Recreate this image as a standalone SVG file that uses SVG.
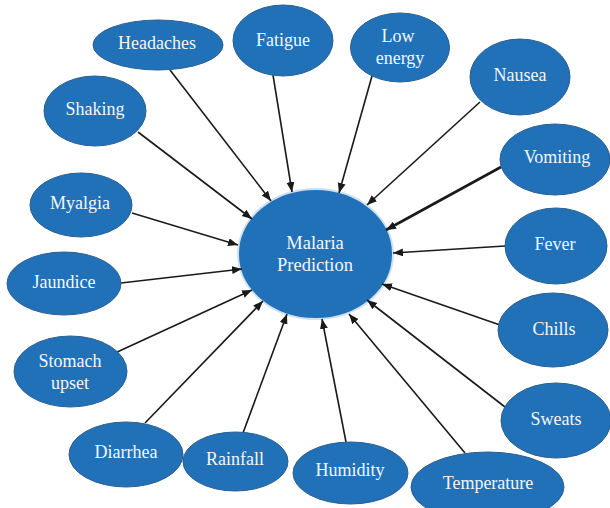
<svg xmlns="http://www.w3.org/2000/svg" width="610" height="508" viewBox="0 0 610 508">
<style>
.n{fill:#2171b9;stroke:#2b5f8f;stroke-width:1}
.c{fill:#2171b9;stroke:#cfe0f0;stroke-width:2}
.t{font-family:"Liberation Serif","Times New Roman",serif;font-size:18px;fill:#f4f6fa;text-anchor:middle}
.tc{font-size:18.5px}
.l{stroke:#1a1a1a;stroke-width:1.6;fill:none;marker-end:url(#ah)}
.lb{stroke-width:2.6}
</style>
<defs>
<marker id="ah" markerUnits="userSpaceOnUse" markerWidth="12" markerHeight="10" refX="10" refY="4" orient="auto">
<path d="M0,0 L10,4 L0,8 Z" fill="#1a1a1a"/>
</marker>
</defs>
<rect width="610" height="508" fill="#ffffff"/>
<g id="center"><ellipse class="c" cx="315.5" cy="254" rx="77.5" ry="65"/><text class="t tc" x="315" y="249">Malaria</text><text class="t tc" x="315" y="271">Prediction</text></g>
<g id="connectors">
<line class="l" x1="170" y1="70" x2="271" y2="201"/>
<line class="l" x1="273" y1="75" x2="292" y2="192"/>
<line class="l" x1="372" y1="76" x2="339" y2="193"/>
<line class="l" x1="480" y1="102" x2="367" y2="205"/>
<line class="l" x1="138" y1="132" x2="252" y2="219"/>
<line class="l lb" x1="501" y1="167" x2="386" y2="230"/>
<line class="l" x1="132" y1="213" x2="238" y2="245"/>
<line class="l" x1="505" y1="246" x2="393" y2="253"/>
<line class="l" x1="121" y1="283" x2="242" y2="269"/>
<line class="l" x1="115" y1="353" x2="252" y2="290"/>
<line class="l" x1="145" y1="423" x2="263" y2="301"/>
<line class="l" x1="243" y1="433" x2="287" y2="314"/>
<line class="l" x1="346" y1="442" x2="322" y2="319"/>
<line class="l" x1="465" y1="453" x2="349" y2="314"/>
<line class="l" x1="505" y1="407" x2="367" y2="300"/>
<line class="l" x1="500" y1="325" x2="382" y2="284"/>
</g>
<g id="headaches"><ellipse class="n" cx="158" cy="45" rx="65" ry="25"/><text class="t" x="157" y="49">Headaches</text></g>
<g id="fatigue"><ellipse class="n" cx="283" cy="40.5" rx="50" ry="35.5"/><text class="t" x="283" y="46">Fatigue</text></g>
<g id="lowenergy"><ellipse class="n" cx="400" cy="47.5" rx="49.5" ry="34.5"/><text class="t" x="398" y="42">Low</text><text class="t" x="400" y="64">energy</text></g>
<g id="nausea"><ellipse class="n" cx="520" cy="77" rx="50" ry="38"/><text class="t" x="520" y="81">Nausea</text></g>
<g id="shaking"><ellipse class="n" cx="95" cy="111" rx="51" ry="35"/><text class="t" x="95" y="115">Shaking</text></g>
<g id="vomiting"><ellipse class="n" cx="555" cy="159.5" rx="55" ry="35.5"/><text class="t" x="557" y="163">Vomiting</text></g>
<g id="myalgia"><ellipse class="n" cx="81" cy="205" rx="51" ry="32"/><text class="t" x="80" y="209">Myalgia</text></g>
<g id="fever"><ellipse class="n" cx="556" cy="246" rx="51" ry="38"/><text class="t" x="555" y="250">Fever</text></g>
<g id="jaundice"><ellipse class="n" cx="64" cy="283.5" rx="57" ry="31.5"/><text class="t" x="64" y="288">Jaundice</text></g>
<g id="chills"><ellipse class="n" cx="553" cy="330" rx="55" ry="37"/><text class="t" x="554" y="335">Chills</text></g>
<g id="stomach"><ellipse class="n" cx="70.5" cy="371.5" rx="56.5" ry="35.5"/><text class="t" x="70" y="367">Stomach</text><text class="t" x="70" y="389">upset</text></g>
<g id="sweats"><ellipse class="n" cx="556" cy="420.5" rx="55" ry="37.5"/><text class="t" x="556" y="425">Sweats</text></g>
<g id="diarrhea"><ellipse class="n" cx="126" cy="454.5" rx="57" ry="32.5"/><text class="t" x="126" y="458">Diarrhea</text></g>
<g id="rainfall"><ellipse class="n" cx="235.5" cy="461.5" rx="52.5" ry="29.5"/><text class="t" x="235" y="465">Rainfall</text></g>
<g id="humidity"><ellipse class="n" cx="350.5" cy="473" rx="57.5" ry="31"/><text class="t" x="350" y="476">Humidity</text></g>
<g id="temperature"><ellipse class="n" cx="487.5" cy="487" rx="76.5" ry="35"/><text class="t" x="488" y="489">Temperature</text></g>
</svg>
